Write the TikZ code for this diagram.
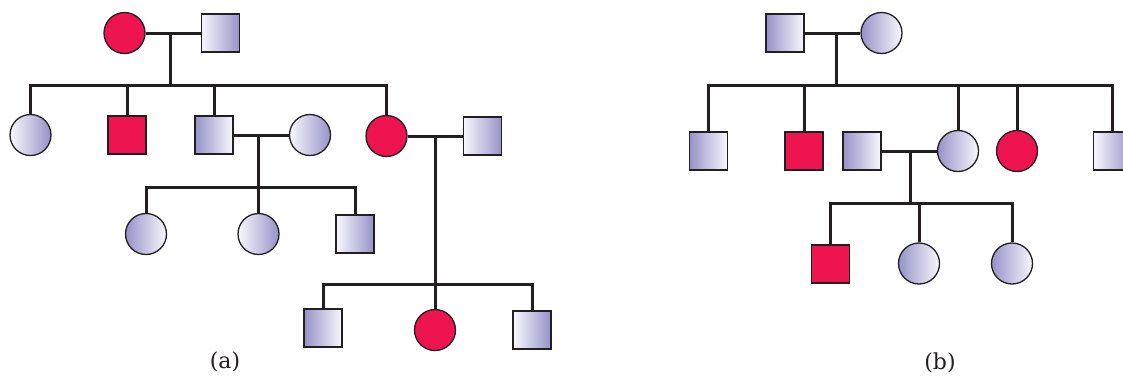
\documentclass[tikz,border=0pt]{standalone}
\usepackage{fontspec}
\setmainfont{DejaVu Serif}
\definecolor{lav}{RGB}{150,146,200}
\definecolor{lavlight}{RGB}{248,248,252}
\definecolor{pedred}{RGB}{237,20,80}
\definecolor{ink}{RGB}{35,31,32}
\begin{document}
\begin{tikzpicture}[x=1pt,y=-1pt,
  sq/.style={draw=ink, line width=1.3pt, rectangle, minimum size=38pt, inner sep=0pt},
  ci/.style={draw=ink, line width=1.3pt, circle, minimum size=41pt, inner sep=0pt},
  wp/.style={left color=lavlight, right color=lav},
  pw/.style={left color=lav, right color=lavlight},
  aff/.style={fill=pedred},
  link/.style={draw=ink, line width=3pt},
  lab/.style={font=\fontsize{22}{26}\selectfont, text=ink}]
\useasboundingbox (0,0) rectangle (1123,376);
% ---------- (a)
\node[ci,aff] (aI1) at (124.5,33) {};
\node[sq,wp] (aI2) at (220.5,33) {};
\node[ci,wp] (aII1) at (30.5,135) {};
\node[sq,aff] (aII2) at (127,135) {};
\node[sq,pw] (aII3) at (214,135) {};
\node[ci,wp] (aII4) at (310,135) {};
\node[ci,aff] (aII5) at (386.5,136) {};
\node[sq,wp] (aII6) at (482.5,136) {};
\node[ci,pw] (aIII1) at (146,234) {};
\node[ci,wp] (aIII2) at (258.5,234) {};
\node[sq,wp] (aIII3) at (355,234) {};
\node[sq,pw] (aIV1) at (323,328) {};
\node[ci,aff] (aIV2) at (435,330) {};
\node[sq,wp] (aIV3) at (532,330) {};
\coordinate (am1) at (170,33);
\coordinate (am1b) at (170,85);
\coordinate (am2) at (258.5,135);
\coordinate (am2b) at (258.5,187);
\coordinate (am3) at (435,136);
\coordinate (am3b) at (435,284);
\draw[link] (aI1.east) -- (aI2.west);
\draw[link] (am1) -- (am1b);
\draw[link] (aII1.north) |- (am1b) -| (aII5.north);
\draw[link] (aII2.north) -- (aII2.north |- am1b);
\draw[link] (aII3.north) -- (aII3.north |- am1b);
\draw[link] (aII3.east) -- (aII4.west);
\draw[link] (am2) -- (aIII2.north);
\draw[link] (aIII1.north) |- (am2b) -| (aIII3.north);
\draw[link] (aII5.east) -- (aII6.west);
\draw[link] (am3) -- (aIV2.north);
\draw[link] (aIV1.north) |- (am3b) -| (aIV3.north);
\node[lab] (la) at (225,362) {(a)};
% ---------- (b)
\node[sq,pw] (bI1) at (785,33) {};
\node[ci,pw] (bI2) at (881.5,33) {};
\node[sq,pw] (bII1) at (708.5,151) {};
\node[sq,aff] (bII2) at (804,151) {};
\node[sq,pw] (bII3) at (862,151) {};
\node[ci,pw] (bII4) at (958,151) {};
\node[ci,aff] (bII5) at (1017,151) {};
\node[sq,wp] (bII6) at (1112.5,151) {};
\node[sq,aff] (bIII1) at (830.5,264) {};
\node[ci,pw] (bIII2) at (919,263.5) {};
\node[ci,pw] (bIII3) at (1012,263.5) {};
\coordinate (bm1) at (836,33);
\coordinate (bm1b) at (836,85);
\coordinate (bm2) at (910.5,151);
\coordinate (bm2b) at (910.5,203);
\draw[link] (bI1.east) -- (bI2.west);
\draw[link] (bm1) -- (bm1b);
\draw[link] (bII1.north) |- (bm1b) -| (bII6.north);
\draw[link] (bII2.north) -- (bII2.north |- bm1b);
\draw[link] (bII4.north) -- (bII4.north |- bm1b);
\draw[link] (bII5.north) -- (bII5.north |- bm1b);
\draw[link] (bII3.east) -- (bII4.west);
\draw[link] (bm2) -- (bm2b);
\draw[link] (bIII1.north) |- (bm2b) -| (bIII3.north);
\draw[link] (bIII2.north) -- (bIII2.north |- bm2b);
\node[lab] (lb) at (940,363) {(b)};
\end{tikzpicture}
\end{document}
